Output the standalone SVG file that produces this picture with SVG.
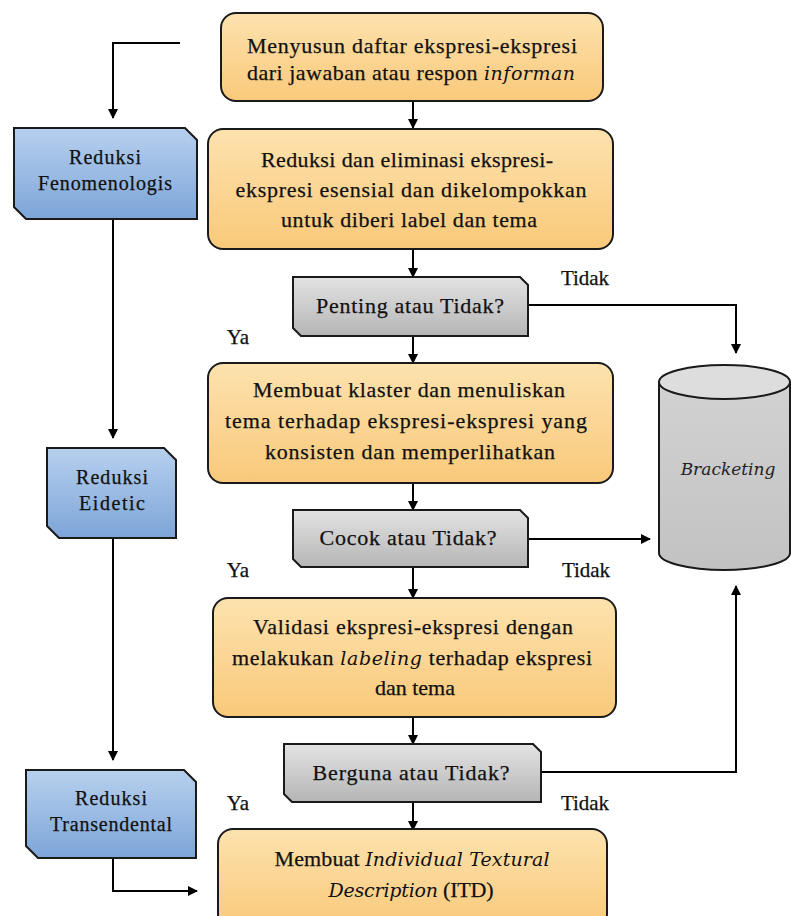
<svg xmlns="http://www.w3.org/2000/svg" width="791" height="916" viewBox="0 0 791 916">
<defs>
<linearGradient id="gOr" x1="0" y1="0" x2="0" y2="1"><stop offset="0" stop-color="#FDE2AE"/><stop offset="1" stop-color="#F9C97A"/></linearGradient>
<linearGradient id="gBl" x1="0" y1="0" x2="0" y2="1"><stop offset="0" stop-color="#B7D0EE"/><stop offset="1" stop-color="#7DA5D8"/></linearGradient>
<linearGradient id="gGr" x1="0" y1="0" x2="0" y2="1"><stop offset="0" stop-color="#E3E3E3"/><stop offset="1" stop-color="#B5B5B5"/></linearGradient>
<linearGradient id="gCy" x1="0" y1="0" x2="0" y2="1"><stop offset="0" stop-color="#D2D2D2"/><stop offset="1" stop-color="#C2C2C2"/></linearGradient>
<marker id="ah" markerWidth="10" markerHeight="10" refX="9" refY="5" orient="auto" markerUnits="userSpaceOnUse"><path d="M0,0 L10,5 L0,10 Z" fill="#000"/></marker>
</defs>
<style>
.or{fill:url(#gOr);stroke:#1a1a1a;stroke-width:2}
.bl{fill:url(#gBl);stroke:#1a1a1a;stroke-width:2}
.gr{fill:url(#gGr);stroke:#1a1a1a;stroke-width:2}
.cy{fill:url(#gCy);stroke:#1a1a1a;stroke-width:2}
.t{font-family:"Liberation Serif","Times New Roman",serif;font-size:22px;fill:#111;text-anchor:middle;stroke:#111;stroke-width:0.25}
.s{font-family:"Liberation Serif","Times New Roman",serif;font-size:20px;fill:#111;text-anchor:middle;stroke:#111;stroke-width:0.25}
.l{font-family:"Liberation Serif","Times New Roman",serif;font-size:21px;fill:#111;text-anchor:middle;stroke:#111;stroke-width:0.25}
.i{font-style:italic;font-family:"DejaVu Serif","Liberation Serif",serif;stroke-width:0}
.bk{font-style:italic;font-family:"DejaVu Serif","Liberation Serif",serif;font-size:17px;fill:#222;text-anchor:middle}
.c{fill:none;stroke:#000;stroke-width:2}
</style>
<g id="connectors">
<path class="c" d="M180,43 H113 V118" marker-end="url(#ah)"/>
<path class="c" d="M413,101 V128" marker-end="url(#ah)"/>
<path class="c" d="M413,249 V277" marker-end="url(#ah)"/>
<path class="c" d="M528,305 H736 V353" marker-end="url(#ah)"/>
<path class="c" d="M413,336 V363" marker-end="url(#ah)"/>
<path class="c" d="M413,483 V510" marker-end="url(#ah)"/>
<path class="c" d="M528,539 H650" marker-end="url(#ah)"/>
<path class="c" d="M413,567 V598" marker-end="url(#ah)"/>
<path class="c" d="M413,717 V744" marker-end="url(#ah)"/>
<path class="c" d="M541,772 H736 V586" marker-end="url(#ah)"/>
<path class="c" d="M413,802 V830" marker-end="url(#ah)"/>
<path class="c" d="M113,219 V438" marker-end="url(#ah)"/>
<path class="c" d="M113,538 V760" marker-end="url(#ah)"/>
<path class="c" d="M113,858 V891 H197" marker-end="url(#ah)"/>
</g>
<g id="n1"><rect class="or" x="221" y="13" width="382" height="88" rx="15"/>
<text class="t" x="412" y="53" textLength="330" lengthAdjust="spacing">Menyusun daftar ekspresi-ekspresi</text>
<text class="t" x="411" y="80" textLength="328" lengthAdjust="spacing">dari jawaban atau respon <tspan class="i" font-size="19">informan</tspan></text></g>
<g id="n2"><rect class="or" x="208" y="129" width="405" height="120" rx="15"/>
<text class="t" x="407" y="167" textLength="292" lengthAdjust="spacing">Reduksi dan eliminasi ekspresi-</text>
<text class="t" x="411" y="197" textLength="351" lengthAdjust="spacing">ekspresi esensial dan dikelompokkan</text>
<text class="t" x="409" y="227" textLength="256" lengthAdjust="spacing">untuk diberi label dan tema</text></g>
<g id="n3"><path class="gr" d="M293,277 H520 L528,285 V336 H301 L293,328 Z"/>
<text class="t" x="410" y="313" textLength="188" lengthAdjust="spacing">Penting atau Tidak?</text></g>
<g id="n4"><rect class="or" x="208" y="363" width="405" height="120" rx="15"/>
<text class="t" x="409" y="397" textLength="312" lengthAdjust="spacing">Membuat klaster dan menuliskan</text>
<text class="t" x="406" y="428" textLength="362" lengthAdjust="spacing">tema terhadap ekspresi-ekspresi yang</text>
<text class="t" x="410" y="459" textLength="290" lengthAdjust="spacing">konsisten dan memperlihatkan</text></g>
<g id="n5"><path class="gr" d="M293,510 H520 L528,518 V567 H301 L293,559 Z"/>
<text class="t" x="408" y="545" textLength="177" lengthAdjust="spacing">Cocok atau Tidak?</text></g>
<g id="n6"><rect class="or" x="213" y="598" width="403" height="119" rx="15"/>
<text class="t" x="413" y="634" textLength="320" lengthAdjust="spacing">Validasi ekspresi-ekspresi dengan</text>
<text class="t" x="412" y="665" textLength="360" lengthAdjust="spacing">melakukan <tspan class="i" font-size="19">labeling</tspan> terhadap ekspresi</text>
<text class="t" x="415" y="695" textLength="80" lengthAdjust="spacing">dan tema</text></g>
<g id="n7"><path class="gr" d="M284,744 H533 L541,752 V802 H292 L284,794 Z"/>
<text class="t" x="411" y="780" textLength="197" lengthAdjust="spacing">Berguna atau Tidak?</text></g>
<g id="n8"><rect class="or" x="218" y="829" width="389" height="100" rx="15"/>
<text class="t" x="412" y="866" textLength="275" lengthAdjust="spacing">Membuat <tspan class="i" font-size="19">Individual Textural</tspan></text>
<text class="t" x="411" y="897" textLength="165" lengthAdjust="spacing"><tspan class="i" font-size="19">Description</tspan> (ITD)</text></g>
<g id="n9"><path class="bl" d="M14,128 H185 L197,140 V219 H26 L14,207 Z"/>
<text class="s" x="105" y="164" textLength="72" lengthAdjust="spacing">Reduksi</text>
<text class="s" x="105" y="190" textLength="134" lengthAdjust="spacing">Fenomenologis</text></g>
<g id="n10"><path class="bl" d="M47,448 H164 L176,460 V538 H59 L47,526 Z"/>
<text class="s" x="112" y="484" textLength="72" lengthAdjust="spacing">Reduksi</text>
<text class="s" x="112" y="510" textLength="66" lengthAdjust="spacing">Eidetic</text></g>
<g id="n11"><path class="bl" d="M26,770 H184 L196,782 V858 H38 L26,846 Z"/>
<text class="s" x="111" y="805" textLength="72" lengthAdjust="spacing">Reduksi</text>
<text class="s" x="111" y="831" textLength="122" lengthAdjust="spacing">Transendental</text></g>
<g id="n12"><path class="cy" d="M659,382 V553 A65.5,17 0 0 0 790,553 V382"/>
<ellipse cx="724.5" cy="382" rx="65.5" ry="17" fill="#DDDDDD" stroke="#1a1a1a" stroke-width="2"/>
<text class="bk" x="728" y="475">Bracketing</text></g>
<g id="labels">
<text class="l" x="585" y="285">Tidak</text>
<text class="l" x="238" y="344">Ya</text>
<text class="l" x="238" y="577">Ya</text>
<text class="l" x="586" y="577">Tidak</text>
<text class="l" x="238" y="810">Ya</text>
<text class="l" x="585" y="810">Tidak</text>
</g>
</svg>
